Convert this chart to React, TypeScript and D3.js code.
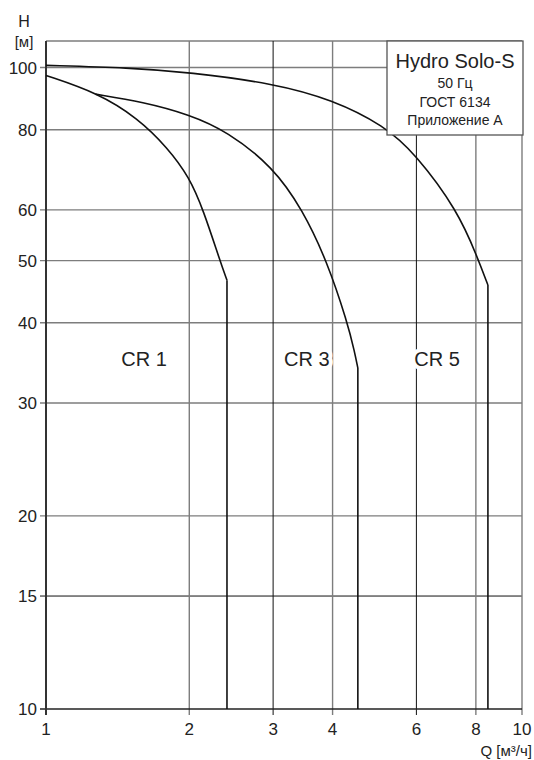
import { useEffect, useRef } from 'react';
import * as d3 from 'd3';

// Q [m3/h] vs H [m]
const cr1Curve: [number, number][] = [
  [1, 97.2], [1.28, 91.4], [1.56, 83.4], [1.8, 75], [2.0, 67.5],
  [2.14, 60], [2.32, 50], [2.4, 46.6],
];
const cr3Curve: [number, number][] = [
  [1.27, 90.9], [1.6, 88.4], [2.0, 84.5], [2.4, 79.6], [3.0, 70],
  [3.46, 60], [3.89, 50], [4.3, 40], [4.45, 36], [4.52, 34],
];
const cr5Curve: [number, number][] = [
  [1, 100.8], [1.5, 99.9], [2.0, 98.3], [3.0, 94.5], [4.0, 89.1],
  [5.13, 81.2], [5.97, 73.4], [7.33, 59.8], [8.06, 50.6], [8.48, 45.8],
];
const seriesLabels = [
  { name: 'CR 1', q: 1.607, h: 34.3, curve: cr1Curve },
  { name: 'CR 3', q: 3.53, h: 34.3, curve: cr3Curve },
  { name: 'CR 5', q: 6.63, h: 34.3, curve: cr5Curve },
];

const xTicks = [1, 2, 3, 4, 6, 8, 10];
const xMajorGrid = [2, 4, 8, 10];
const xMinorGrid = [3, 6];
const yTicks = [10, 15, 20, 30, 40, 50, 60, 80, 100];
const yMinorGrid = [15];
const legendLines = ['50 Гц', 'ГОСТ 6134', 'Приложение А'];

const W = 534;
const H = 760;

export default function App() {
  const svgRef = useRef<SVGSVGElement>(null);

  useEffect(() => {
    if (!svgRef.current) return;
    const svg = d3.select(svgRef.current);
    svg.selectAll('*').remove();

    const left = 46, right = 522, top = 41, bottom = 709;
    const x = d3.scaleLog().domain([1, 10]).range([left, right]);
    const y = d3.scaleLog().domain([10, 110]).range([bottom, top]);
    const font = 'Liberation Sans, Arial, sans-serif';
    const gray = '#7d7d7d';

    // grid
    const grid = svg.append('g');
    grid.selectAll('line.ymaj')
      .data(yTicks.filter(v => v !== 10))
      .join('line')
      .attr('x1', left - 6).attr('x2', right)
      .attr('y1', d => y(d)).attr('y2', d => y(d))
      .attr('stroke', d => yMinorGrid.includes(d) ? '#111' : gray)
      .attr('stroke-width', d => yMinorGrid.includes(d) ? 1 : 1.4);
    grid.append('line')
      .attr('x1', left).attr('x2', right).attr('y1', top).attr('y2', top)
      .attr('stroke', gray).attr('stroke-width', 1.4);
    grid.selectAll('line.xmaj')
      .data(xMajorGrid)
      .join('line')
      .attr('x1', d => x(d)).attr('x2', d => x(d))
      .attr('y1', top).attr('y2', bottom + 6)
      .attr('stroke', gray).attr('stroke-width', 1.4);
    grid.selectAll('line.xmin')
      .data(xMinorGrid)
      .join('line')
      .attr('x1', d => x(d)).attr('x2', d => x(d))
      .attr('y1', top).attr('y2', bottom + 6)
      .attr('stroke', '#111').attr('stroke-width', 1);

    // axes
    svg.append('line')
      .attr('x1', left - 6).attr('x2', right).attr('y1', bottom).attr('y2', bottom)
      .attr('stroke', '#222').attr('stroke-width', 1.6);
    svg.append('line')
      .attr('x1', left).attr('x2', left).attr('y1', top).attr('y2', bottom + 6)
      .attr('stroke', '#333').attr('stroke-width', 2);

    svg.selectAll('text.yt')
      .data(yTicks)
      .join('text')
      .attr('x', 37).attr('y', d => y(d) + 6)
      .attr('text-anchor', 'end')
      .attr('font-family', font).attr('font-size', 17).attr('fill', '#222')
      .text(d => d);
    svg.selectAll('text.xt')
      .data(xTicks)
      .join('text')
      .attr('x', d => x(d)).attr('y', 735)
      .attr('text-anchor', 'middle')
      .attr('font-family', font).attr('font-size', 17).attr('fill', '#222')
      .text(d => d);

    svg.append('text').attr('x', 24).attr('y', 27).attr('text-anchor', 'middle')
      .attr('font-family', font).attr('font-size', 16).attr('fill', '#222').text('H');
    svg.append('text').attr('x', 24).attr('y', 47).attr('text-anchor', 'middle')
      .attr('font-family', font).attr('font-size', 15).attr('fill', '#222').text('[м]');
    svg.append('text').attr('x', 532).attr('y', 756).attr('text-anchor', 'end')
      .attr('font-family', font).attr('font-size', 15).attr('fill', '#222').text('Q [м³/ч]');

    // curves
    const line = d3.line<[number, number]>()
      .x(d => x(d[0])).y(d => y(d[1]))
      .curve(d3.curveBasis);
    const curves = svg.append('g');
    seriesLabels.forEach(s => {
      curves.append('path')
        .attr('d', line(s.curve))
        .attr('fill', 'none').attr('stroke', '#111').attr('stroke-width', 1.6);
      const end = s.curve[s.curve.length - 1];
      curves.append('line')
        .attr('x1', x(end[0])).attr('x2', x(end[0]))
        .attr('y1', y(end[1])).attr('y2', y(10))
        .attr('stroke', '#111').attr('stroke-width', 1.6);
    });

    svg.selectAll('text.lbl')
      .data(seriesLabels)
      .join('text')
      .attr('x', d => x(d.q)).attr('y', d => y(d.h))
      .attr('text-anchor', 'middle')
      .attr('font-family', font).attr('font-size', 20).attr('fill', '#222')
      .attr('stroke', '#fff').attr('stroke-width', 8).attr('paint-order', 'stroke')
      .text(d => d.name);

    // legend box
    const lg = svg.append('g');
    lg.append('rect')
      .attr('x', 387).attr('y', top).attr('width', 136).attr('height', 94)
      .attr('fill', '#fff').attr('stroke', '#555').attr('stroke-width', 1.3);
    lg.append('text').attr('x', 455).attr('y', 68).attr('text-anchor', 'middle')
      .attr('font-family', font).attr('font-size', 20).attr('fill', '#222')
      .text('Hydro Solo-S');
    lg.selectAll('text.sub')
      .data(legendLines)
      .join('text')
      .attr('x', 455).attr('y', (_, i) => 88 + i * 18.5)
      .attr('text-anchor', 'middle')
      .attr('font-family', font).attr('font-size', 14).attr('fill', '#222')
      .text(d => d);
  }, []);

  return (
    <svg ref={svgRef} width={W} height={H}
      style={{ position: 'absolute', left: 0, top: 0, background: '#fff' }} />
  );
}
